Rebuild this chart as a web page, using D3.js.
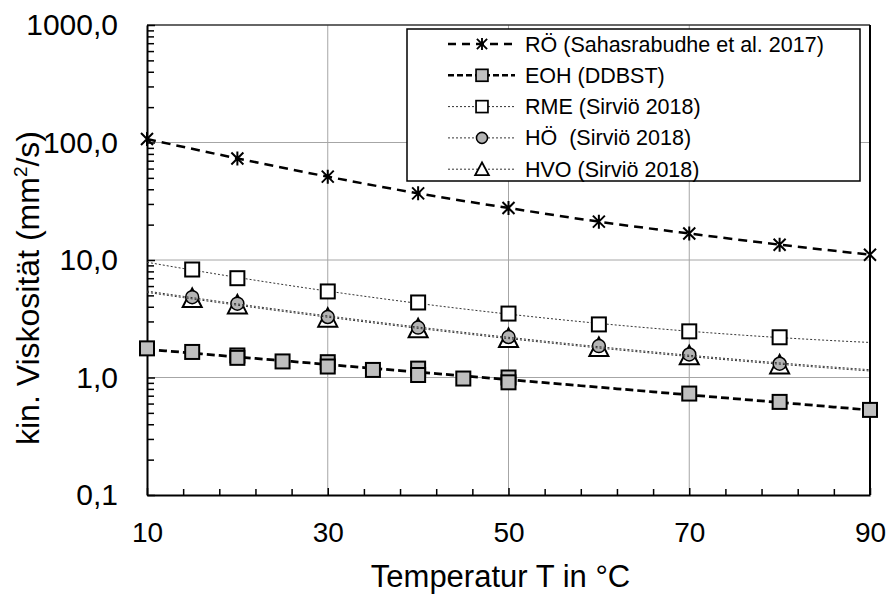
<!DOCTYPE html>
<html>
<head>
<meta charset="utf-8">
<script src="https://cdn.jsdelivr.net/npm/d3@7"></script>
<style>
  html, body { margin: 0; padding: 0; background: #fff; }
  svg { display: block; font-family: "Liberation Sans", Arial, sans-serif; }
  text { white-space: pre; }
</style>
</head>
<body>
<svg id="chart" width="893" height="596"></svg>
<script>
// ---------- data ----------
const xMajorTicks = [10, 30, 50, 70, 90];
const xMinorTicks = [14, 18, 22, 26, 34, 38, 42, 46, 54, 58, 62, 66, 74, 78, 82, 86];
const yTicks = [0.1, 1, 10, 100, 1000];
const yTickLabels = ["0,1", "1,0", "10,0", "100,0", "1000,0"];
const xGrid = [30, 50, 70];
const yGrid = [1, 10, 100];

const roT = [10, 20, 30, 40, 50, 60, 70, 80, 90];
const roV = [107, 73.2, 51.2, 36.9, 27.7, 21.2, 16.8, 13.5, 11.1];

const eohT = [10, 15, 20, 20, 25, 30, 30, 35, 40, 40, 45, 50, 50, 70, 80, 90];
const eohV = [1.77, 1.65, 1.54, 1.47, 1.37, 1.35, 1.24, 1.16, 1.19, 1.05, 0.98, 1.0, 0.91, 0.73, 0.62, 0.53];

const sirT = [15, 20, 30, 40, 50, 60, 70, 80];
const rmeV = [8.3, 7.0, 5.4, 4.35, 3.5, 2.83, 2.47, 2.2];
const hoeV = [4.83, 4.25, 3.27, 2.66, 2.21, 1.85, 1.57, 1.31];
const hvoV = [4.7, 4.15, 3.2, 2.6, 2.15, 1.8, 1.53, 1.28];

const legendLabels = [
  "RÖ (Sahasrabudhe et al. 2017)",
  "EOH (DDBST)",
  "RME (Sirviö 2018)",
  "HÖ  (Sirviö 2018)",
  "HVO (Sirviö 2018)"
];
const trendRange = [10, 90];

// ---------- layout ----------
const svg = d3.select("#chart");
const L = 147, R = 870, T = 25, B = 495;
const x = d3.scaleLinear().domain([10, 90]).range([L, R]);
const y = d3.scaleLog().domain([0.1, 1000]).range([B, T]);

// gridlines
const grid = svg.append("g").attr("stroke", "#a6a6a6").attr("stroke-width", 1);
grid.selectAll(".gx").data(xGrid).join("line")
  .attr("x1", d => x(d)).attr("x2", d => x(d)).attr("y1", T).attr("y2", B);
grid.selectAll(".gy").data(yGrid).join("line")
  .attr("x1", L).attr("x2", R).attr("y1", d => y(d)).attr("y2", d => y(d));

// frame top / right
svg.append("line").attr("x1", L).attr("x2", R).attr("y1", T).attr("y2", T)
  .attr("stroke", "#333").attr("stroke-width", 1.5);
svg.append("line").attr("x1", R).attr("x2", R).attr("y1", T).attr("y2", B)
  .attr("stroke", "#000").attr("stroke-width", 2);

// y axis
const minorY = [];
[0.1, 1, 10, 100].forEach(d => { for (let k = 2; k <= 9; k++) minorY.push(d * k); });
const yAxis = svg.append("g").attr("transform", `translate(${L},0)`)
  .call(d3.axisLeft(y).tickValues(yTicks).tickFormat((d, i) => yTickLabels[i])
    .tickSizeInner(-8).tickSizeOuter(0).tickPadding(29));
yAxis.select(".domain").attr("stroke", "#000").attr("stroke-width", 2);
yAxis.selectAll(".tick line").attr("stroke", "#000").attr("stroke-width", 1.5);
yAxis.selectAll("text").attr("font-size", 30).attr("fill", "#000")
  .attr("font-family", "Liberation Sans, Arial, sans-serif");
const yMinor = svg.append("g").attr("transform", `translate(${L},0)`)
  .call(d3.axisLeft(y).tickValues(minorY).tickFormat("").tickSizeInner(-7).tickSizeOuter(0));
yMinor.select(".domain").remove();
yMinor.selectAll(".tick line").attr("stroke", "#000").attr("stroke-width", 1.5);

// x axis
const xAxis = svg.append("g").attr("transform", `translate(0,${B})`)
  .call(d3.axisBottom(x).tickValues(xMajorTicks).tickFormat(d3.format("d"))
    .tickSizeInner(-7).tickSizeOuter(0).tickPadding(27));
xAxis.select(".domain").attr("stroke", "#000").attr("stroke-width", 2);
xAxis.selectAll(".tick line").attr("stroke", "#000").attr("stroke-width", 1.5);
xAxis.selectAll("text").attr("font-size", 28).attr("fill", "#000")
  .attr("font-family", "Liberation Sans, Arial, sans-serif");
const xMinor = svg.append("g").attr("transform", `translate(0,${B})`)
  .call(d3.axisBottom(x).tickValues(xMinorTicks).tickFormat("").tickSizeInner(-6).tickSizeOuter(0));
xMinor.select(".domain").remove();
xMinor.selectAll(".tick line").attr("stroke", "#000").attr("stroke-width", 1.5);

// axis titles
svg.append("text").attr("x", (L + R) / 2 - 8).attr("y", 587).attr("text-anchor", "middle")
  .attr("font-size", 31).attr("fill", "#000").text("Temperatur T in °C");
const yt = svg.append("text").attr("transform", "translate(39,288) rotate(-90)")
  .attr("text-anchor", "middle").attr("font-size", 32).attr("fill", "#000");
yt.append("tspan").text("kin. Viskosität (mm");
yt.append("tspan").attr("font-size", 19).attr("dy", -12).text("2");
yt.append("tspan").attr("dy", 12).text("/s)");

// ---------- helpers ----------
const pts = (ts, vs) => ts.map((t, i) => ({ t, v: vs[i] }));
// exponential trend (least squares of ln y on x)
function expFit(ts, vs) {
  const ly = vs.map(Math.log);
  const mx = d3.mean(ts), my = d3.mean(ly);
  let sxy = 0, sxx = 0;
  ts.forEach((t, i) => { sxy += (t - mx) * (ly[i] - my); sxx += (t - mx) ** 2; });
  const b = sxy / sxx, a = my - b * mx;
  return d3.range(trendRange[0], trendRange[1] + 0.01, 2).map(t => ({ t, v: Math.exp(a + b * t) }));
}
// quadratic trend of ln y on x (least squares, normal equations)
function quadLogFit(ts, vs) {
  const ly = vs.map(Math.log);
  let S = [0, 0, 0, 0, 0], Y = [0, 0, 0];
  ts.forEach((t, i) => {
    for (let k = 0; k < 5; k++) S[k] += t ** k;
    for (let k = 0; k < 3; k++) Y[k] += ly[i] * t ** k;
  });
  const M = [[S[0], S[1], S[2], Y[0]], [S[1], S[2], S[3], Y[1]], [S[2], S[3], S[4], Y[2]]];
  for (let c = 0; c < 3; c++) {
    for (let r = c + 1; r < 3; r++) {
      const f = M[r][c] / M[c][c];
      for (let k = c; k < 4; k++) M[r][k] -= f * M[c][k];
    }
  }
  const co = [0, 0, 0];
  for (let r = 2; r >= 0; r--) {
    let s = M[r][3];
    for (let k = r + 1; k < 3; k++) s -= M[r][k] * co[k];
    co[r] = s / M[r][r];
  }
  return d3.range(trendRange[0], trendRange[1] + 0.01, 2)
    .map(t => ({ t, v: Math.exp(co[0] + co[1] * t + co[2] * t * t) }));
}
const line = d3.line().x(d => x(d.t)).y(d => y(d.v));
const curve = d3.line().x(d => x(d.t)).y(d => y(d.v)).curve(d3.curveMonotoneX);

const asterisk = "M0,-7L0,7M-6,-6L6,6M-6,6L6,-6";
const tri = "M0,-10L9.5,8.5L-9.5,8.5Z";

function drawMarkers(data, kind, g) {
  const sel = g.selectAll(null).data(data).join(kind === "circle" ? "circle" : (kind === "rect" || kind === "rectOpen") ? "rect" : "path");
  if (kind === "ast") {
    sel.attr("d", asterisk).attr("transform", d => `translate(${x(d.t)},${y(d.v)})`)
      .attr("stroke", "#000").attr("stroke-width", 2).attr("fill", "none");
  } else if (kind === "rect") {
    sel.attr("x", d => x(d.t) - 7).attr("y", d => y(d.v) - 7).attr("width", 14).attr("height", 14)
      .attr("fill", "#bfbfbf").attr("stroke", "#000").attr("stroke-width", 2);
  } else if (kind === "rectOpen") {
    sel.attr("x", d => x(d.t) - 7).attr("y", d => y(d.v) - 7).attr("width", 14).attr("height", 14)
      .attr("fill", "#fff").attr("stroke", "#000").attr("stroke-width", 2);
  } else if (kind === "circle") {
    sel.attr("cx", d => x(d.t)).attr("cy", d => y(d.v)).attr("r", 6.5)
      .attr("fill", "#b4b4b4").attr("stroke", "#000").attr("stroke-width", 1.5);
  } else if (kind === "tri") {
    sel.attr("d", tri).attr("transform", d => `translate(${x(d.t)},${y(d.v)})`)
      .attr("fill", "#fff").attr("stroke", "#000").attr("stroke-width", 2);
  }
}

const plot = svg.append("g");

// RÖ
plot.append("path").datum(pts(roT, roV)).attr("d", curve)
  .attr("fill", "none").attr("stroke", "#000").attr("stroke-width", 2.5).attr("stroke-dasharray", "9,6");
drawMarkers(pts(roT, roV), "ast", plot.append("g"));

// EOH
plot.append("path").datum(expFit(eohT, eohV)).attr("d", line)
  .attr("fill", "none").attr("stroke", "#000").attr("stroke-width", 2.75).attr("stroke-dasharray", "8,4");
drawMarkers(pts(eohT, eohV), "rect", plot.append("g"));

// RME
plot.append("path").datum(quadLogFit(sirT, rmeV)).attr("d", line)
  .attr("fill", "none").attr("stroke", "#333").attr("stroke-width", 1).attr("stroke-dasharray", "2,2");
drawMarkers(pts(sirT, rmeV), "rectOpen", plot.append("g"));

// HVO + HÖ
drawMarkers(pts(sirT, hvoV), "tri", plot.append("g"));
drawMarkers(pts(sirT, hoeV), "circle", plot.append("g"));
plot.append("path").datum(quadLogFit(sirT, hvoV)).attr("d", line)
  .attr("fill", "none").attr("stroke", "#333").attr("stroke-width", 1).attr("stroke-dasharray", "2,2");
plot.append("path").datum(quadLogFit(sirT, hoeV)).attr("d", line)
  .attr("fill", "none").attr("stroke", "#333").attr("stroke-width", 1).attr("stroke-dasharray", "2,2");

// ---------- legend ----------
const lg = svg.append("g");
lg.append("rect").attr("x", 407).attr("y", 29).attr("width", 453).attr("height", 152)
  .attr("fill", "#fff").attr("stroke", "#000").attr("stroke-width", 1.5);
const legStyles = [
  { dash: "8,6", w: 2.5, c: "#000", m: "ast" },
  { dash: "6,3", w: 2.5, c: "#000", m: "rect" },
  { dash: "2,2", w: 1, c: "#333", m: "rectOpen" },
  { dash: "2,2", w: 1, c: "#333", m: "circle" },
  { dash: "2,2", w: 1, c: "#333", m: "tri" }
];
legendLabels.forEach((lab, i) => {
  const ry = 44 + i * 31.3;
  const st = legStyles[i];
  const row = lg.append("g");
  row.append("line").attr("x1", 448).attr("x2", 515).attr("y1", ry).attr("y2", ry)
    .attr("stroke", st.c).attr("stroke-width", st.w).attr("stroke-dasharray", st.dash);
  const mg = row.append("g").attr("transform", `translate(482,${ry}) scale(0.85)`);
  if (st.m === "ast") mg.append("path").attr("d", asterisk).attr("stroke", "#000").attr("stroke-width", 2.2).attr("fill", "none");
  if (st.m === "rect") mg.append("rect").attr("x", -7).attr("y", -7).attr("width", 14).attr("height", 14).attr("fill", "#bfbfbf").attr("stroke", "#000").attr("stroke-width", 2);
  if (st.m === "rectOpen") mg.append("rect").attr("x", -7).attr("y", -7).attr("width", 14).attr("height", 14).attr("fill", "#fff").attr("stroke", "#000").attr("stroke-width", 2);
  if (st.m === "circle") mg.append("circle").attr("r", 6.5).attr("fill", "#b4b4b4").attr("stroke", "#000").attr("stroke-width", 1.8);
  if (st.m === "tri") mg.append("path").attr("d", "M0,-8L8,7L-8,7Z").attr("fill", "#fff").attr("stroke", "#000").attr("stroke-width", 2.2);
  row.append("text").attr("x", 525).attr("y", ry).attr("dy", "0.35em")
    .attr("font-size", 21.5).attr("fill", "#000").text(lab);
});
</script>
</body>
</html>
